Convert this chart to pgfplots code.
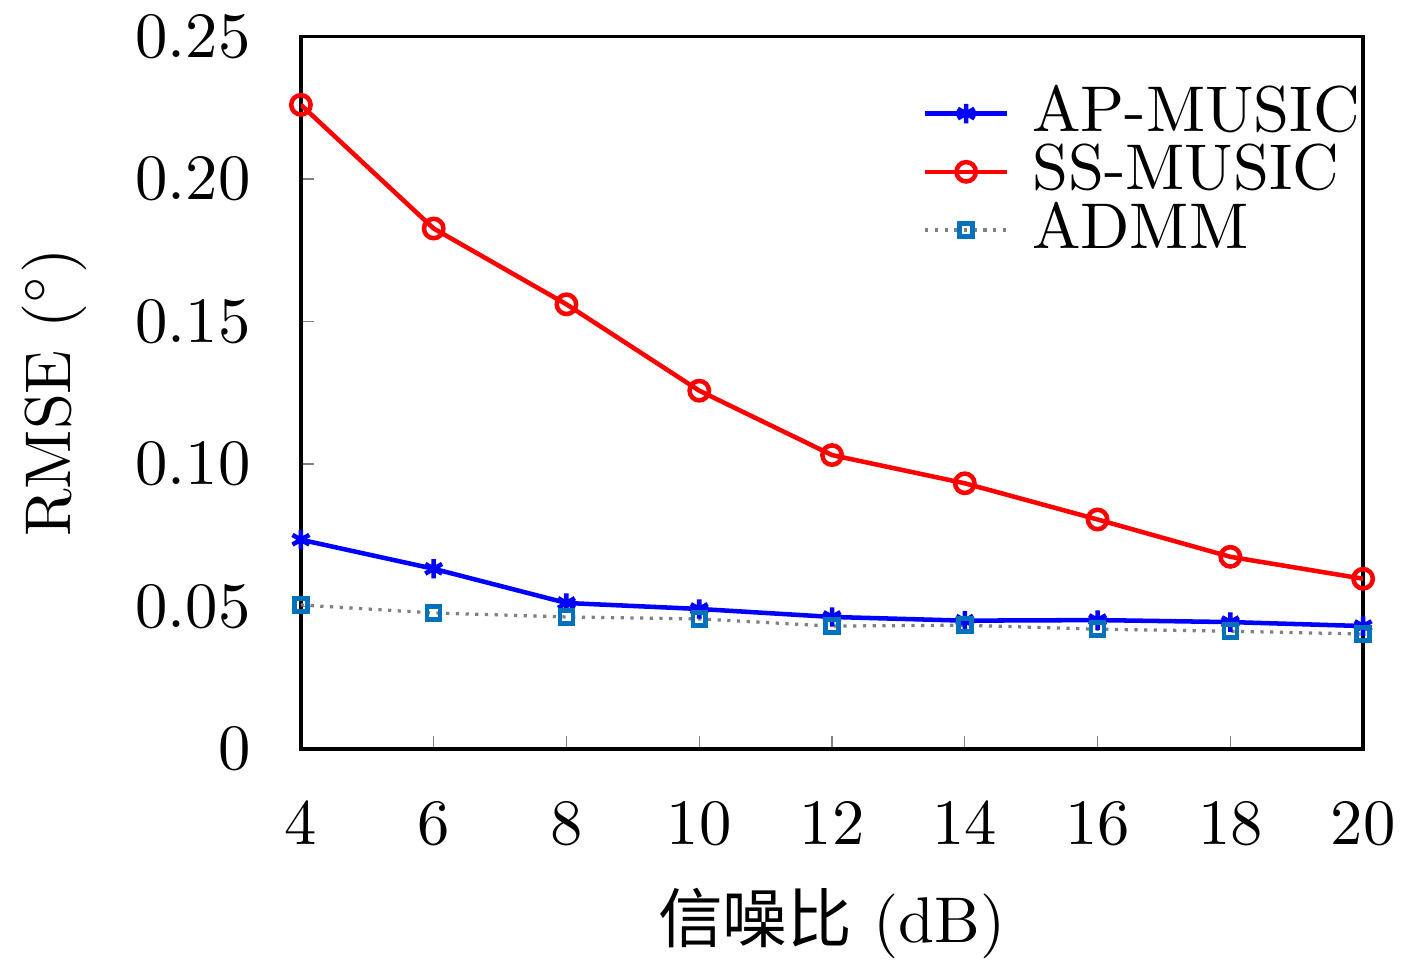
\documentclass[border=0pt]{standalone}
\usepackage{pgfplots}
\pgfplotsset{compat=1.18}
\usepackage{fontspec}
\newfontfamily\cjk{Noto Sans CJK SC}
\definecolor{admm}{RGB}{0,114,189}
\begin{document}
\begin{tikzpicture}
\begin{axis}[
  scale only axis,
  width=164.3pt, height=110.2pt,
  xmin=4, xmax=20, ymin=0, ymax=0.25,
  xtick={4,6,...,20},
  ytick={0,0.05,0.10,0.15,0.20,0.25},
  yticklabels={0,0.05,0.10,0.15,0.20,0.25},
  tick align=inside,
  major tick length=2pt,
  xtick pos=bottom, ytick pos=left,
  xticklabel shift=4.8pt,
  yticklabel shift=5.4pt,
  yticklabel style={inner sep=2.2pt},
  axis line style={line width=0.6pt},
  xlabel={{\cjk 信噪比} (dB)},
  xlabel style={inner sep=0.7pt},
  xlabel shift=2.6pt,
  ylabel={RMSE ($^\circ$)},
  ylabel shift=1.9pt,
  legend style={draw=none, fill=none, inner sep=0pt, at={(1,1)}, xshift=1.7pt, yshift=-5.4pt, anchor=north east, row sep=-3.6pt, column sep=1.5pt, font=\normalsize},
  legend cell align=left,
  legend image code/.code={\draw[mark repeat=2,mark phase=2] plot coordinates {(0pt,0pt)(6.35pt,0pt)(12.7pt,0pt)};},
]
\addplot[blue, line width=0.7pt, mark=asterisk, mark size=1.5pt, mark options={solid}] coordinates {
(4,0.0734)(6,0.0632)(8,0.0512)(10,0.0491)(12,0.0463)(14,0.0450)(16,0.0452)(18,0.0445)(20,0.0431)};
\addlegendentry{AP-MUSIC}
\addplot[red, line width=0.7pt, mark=o, mark size=1.5pt] coordinates {
(4,0.226)(6,0.1826)(8,0.156)(10,0.1257)(12,0.1031)(14,0.0932)(16,0.0805)(18,0.0674)(20,0.0597)};
\addlegendentry{SS-MUSIC}
\addplot[gray, densely dotted, line width=0.5pt, mark=square, mark size=1pt, mark options={solid, admm, line width=0.7pt}] coordinates {
(4,0.0505)(6,0.0477)(8,0.0463)(10,0.0456)(12,0.0431)(14,0.0434)(16,0.0420)(18,0.0413)(20,0.0403)};
\addlegendentry{ADMM}
\end{axis}
\end{tikzpicture}
\end{document}
